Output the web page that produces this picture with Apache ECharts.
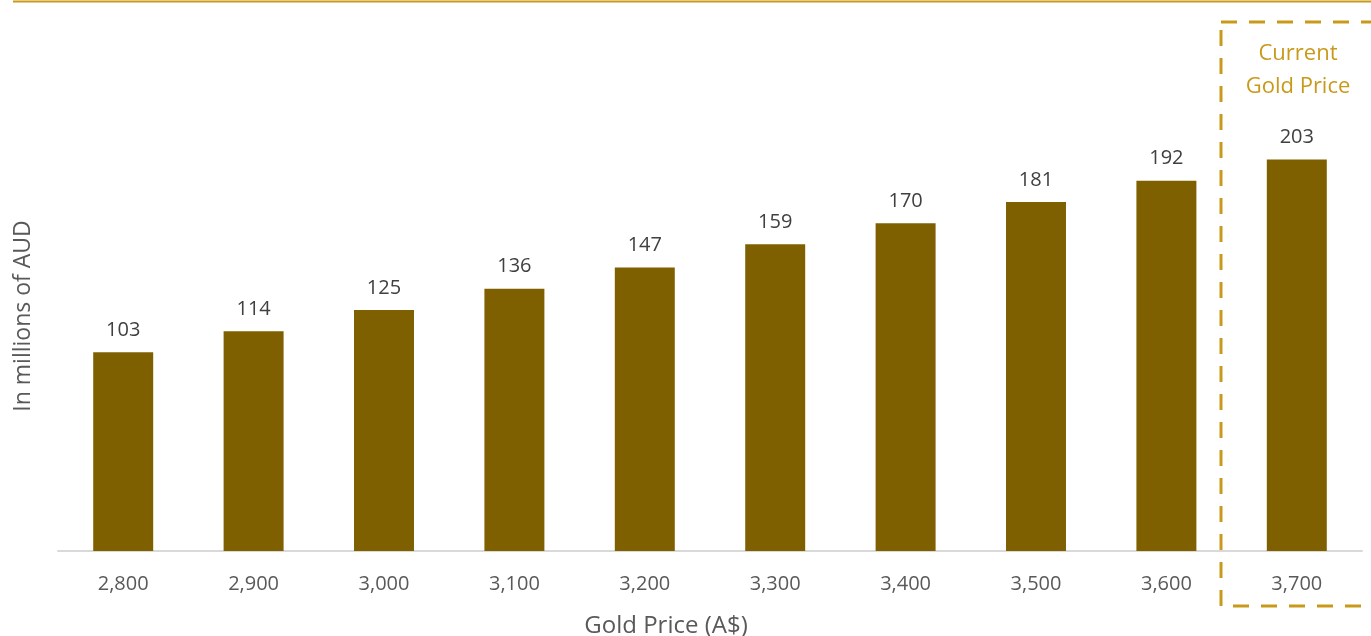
<!DOCTYPE html>
<html>
<head>
<meta charset="utf-8">
<script src="https://cdn.jsdelivr.net/npm/echarts@6/dist/echarts.min.js"></script>
<style>
  html, body { margin: 0; padding: 0; background: #fff; }
  #chart { width: 1371px; height: 636px; }
</style>
</head>
<body>
<div id="chart"></div>
<script>
// data
const goldPrices = ['2,800', '2,900', '3,000', '3,100', '3,200', '3,300', '3,400', '3,500', '3,600', '3,700']
const values = [103, 114, 125, 136, 147, 159, 170, 181, 192, 203]

const gold = '#C99A1A'
const font = '"Open Sans", "Noto Sans", sans-serif'

const chart = echarts.init(document.getElementById('chart'))

const options = {
  animation: false,
  textStyle: { fontFamily: font },
  grid: {
    top: 11,
    left: 58,
    right: 9,
    bottom: 85,
    outerBoundsMode: 'none',
    containLabel: false
  },
  xAxis: {
    type: 'category',
    data: goldPrices,
    axisTick: { show: false },
    axisLine: { lineStyle: { color: '#D9D9D9', width: 2 } },
    axisLabel: { color: '#595959', fontSize: 20, margin: 23, fontFamily: font },
    name: 'Gold Price (A$)',
    nameLocation: 'middle',
    nameGap: 63,
    // Excel puts the title a bit left of the plot centre
    nameTextStyle: { color: '#595959', fontSize: 24, fontFamily: font, padding: [0, 88, 0, 0] }
  },
  yAxis: {
    type: 'value',
    min: 0,
    max: 280,
    show: true,
    axisLine: { show: false },
    axisTick: { show: false },
    axisLabel: { show: false },
    splitLine: { show: false },
    name: 'In millions of AUD',
    nameLocation: 'middle',
    nameGap: 23,
    nameRotate: 90,
    nameTextStyle: { color: '#595959', fontSize: 23, fontFamily: font, padding: [0, 70, 0, 0] }
  },
  series: [
    {
      type: 'bar',
      data: values,
      barWidth: '46%',
      itemStyle: { color: '#7F6000' },
      label: {
        show: true,
        position: 'top',
        distance: 12,
        color: '#404040',
        fontSize: 20,
        fontFamily: font
      }
    }
  ],
  graphic: [
    // top rule
    {
      type: 'line',
      shape: { x1: 13, y1: 1.5, x2: 1371, y2: 1.5 },
      style: { stroke: gold, lineWidth: 2 }
    },
    // dashed highlight box round the current price
    {
      type: 'rect',
      shape: { x: 1221, y: 22, width: 170, height: 584 },
      style: { fill: 'none', stroke: gold, lineWidth: 3, lineDash: [16, 12] }
    },
    {
      type: 'text',
      x: 1298,
      y: 70,
      style: {
        text: 'Current\nGold Price',
        fill: gold,
        font: '22px ' + font,
        lineHeight: 33,
        align: 'center',
        verticalAlign: 'middle'
      }
    }
  ]
}

chart.setOption(options)
window.addEventListener('resize', () => {
  chart.resize()
})
</script>
</body>
</html>
